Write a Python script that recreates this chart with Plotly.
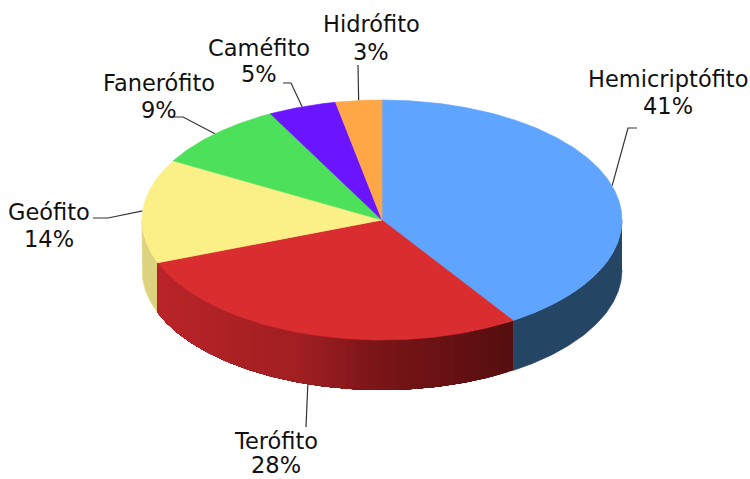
import numpy as np
import plotly.graph_objects as go

# chart data
labels = ["Hemicriptófito", "Terófito", "Geófito", "Fanerófito", "Caméfito", "Hidrófito"]
values = [40.8, 28.4, 14.0, 9.1, 4.6, 3.1]

# styles
top_colors = ["#5FA5FF", "#D92D30", "#FBEF88", "#4DE05A", "#6A14FF", "#FFA647"]
side_colors = ["#254564", None, "#DDD27E", None, None, None]
red_x = [157, 300, 380, 513]
red_r = [186, 161, 122, 85]
red_g = [37, 31, 21, 14]
red_b = [41, 34, 24, 15]

# pie geometry, in page pixels
cx, cy, rx, ry, depth = 382, 220, 240, 120, 50

# label centres (name line, percent line) and leader line bends
label_pos = [(668, 79, 106), (276, 441, 465), (49, 212, 239), (159, 83, 110), (259, 48, 74), (371, 24, 52)]
leader_bends = [
    [(628, 128), (637, 128)],
    [(306, 427)],
    [(108, 218), (93, 218)],
    [(183, 117), (172, 117)],
    [(291, 83), (283, 83)],
    [(358, 65)],
]


def rim(angle, drop=0):
    # angle in degrees, clockwise from the top of the ellipse
    a = np.radians(angle)
    return cx + rx * np.sin(a), cy - ry * np.cos(a) + drop


def poly_trace(xs, ys, color, width=0.6):
    return go.Scatter(x=xs, y=ys, mode="lines", fill="toself", fillcolor=color,
                      line=dict(color=color, width=width), hoverinfo="skip", showlegend=False)


def side_trace(a0, a1, color, width=0.6):
    t = np.linspace(a0, a1, max(int(abs(a1 - a0) * 2), 2))
    x_top, y_top = rim(t)
    x_bot, y_bot = rim(t[::-1], depth)
    return poly_trace(np.r_[x_top, x_bot], np.r_[y_top, y_bot], color, width)


fig = go.Figure()

edges = np.cumsum([0] + values) * 3.6
mids = (edges[:-1] + edges[1:]) / 2

# leader lines go under the pie
for mid, bend in zip(mids, leader_bends):
    drop = depth if 120 < mid < 240 else 0
    x0, y0 = rim(mid, drop)
    fig.add_trace(go.Scatter(x=[x0] + [p[0] for p in bend], y=[y0] + [p[1] for p in bend],
                             mode="lines", line=dict(color="#333333", width=1.2),
                             hoverinfo="skip", showlegend=False))

# visible side wall, lower half of the ellipse only
fig.add_trace(side_trace(max(edges[0], 90), edges[1], side_colors[0]))
fig.add_trace(side_trace(edges[2], min(edges[3], 270), side_colors[2]))

# red wall has a horizontal gradient: paint dark to light, each piece
# covering everything to its left, so no seams show between the bands
steps = np.linspace(edges[1], edges[2], 60)
for a0, a1 in zip(steps[:-1], steps[1:]):
    xm = rim((a0 + a1) / 2)[0]
    color = "rgb(%d,%d,%d)" % (np.interp(xm, red_x, red_r), np.interp(xm, red_x, red_g), np.interp(xm, red_x, red_b))
    fig.add_trace(side_trace(a0, edges[2], color, width=0))

# top face
for i in range(len(values)):
    t = np.linspace(edges[i], edges[i + 1], max(int(values[i] * 8), 8))
    xs, ys = rim(t)
    fig.add_trace(poly_trace(np.r_[cx, xs, cx], np.r_[cy, ys, cy], top_colors[i]))

for name, val, pos in zip(labels, values, label_pos):
    for text, y in ((name, pos[1]), (f"{round(val)}%", pos[2])):
        fig.add_annotation(x=pos[0], y=y, text=text, showarrow=False,
                           xanchor="center", yanchor="middle",
                           font=dict(family="DejaVu Sans", size=22.5, color="#111111"))

fig.update_xaxes(range=[0, 750], visible=False)
fig.update_yaxes(range=[479, 0], visible=False)
fig.update_layout(width=750, height=479, margin=dict(l=0, r=0, t=0, b=0),
                  plot_bgcolor="white", paper_bgcolor="white", showlegend=False)

fig.write_html("out.html", post_script="document.body.style.margin='0';", config={"displayModeBar": False})
